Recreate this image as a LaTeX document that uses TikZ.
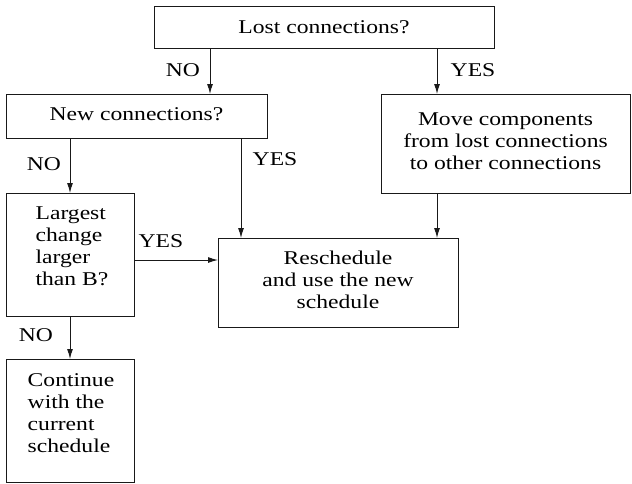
\documentclass[tikz,border=0pt]{standalone}
\usepackage{fontspec}
\setmainfont{Liberation Serif}
\usepackage{graphicx}
\usetikzlibrary{arrows.meta}
\newcommand{\stx}[2][c]{\scalebox{1.21}[1]{\begin{tabular}{@{}#1@{}}#2\end{tabular}}}
\begin{document}
\begin{tikzpicture}[x=1pt,y=1pt,
  box/.style={draw=black!90,line width=1pt,inner sep=0pt,outer sep=0pt,anchor=center},
  txt/.style={inner sep=0pt,font=\fontsize{19.5}{22}\selectfont},
  arr/.style={draw=black!90,line width=1pt,-{Latex[length=10pt,width=6pt]}},
  lbl/.style={inner sep=0pt,font=\fontsize{19.5}{22}\selectfont}]
\useasboundingbox (0,0) rectangle (632,-483);
\fill[white] (0,0) rectangle (632,-483);
% boxes
\node[box,minimum width=340pt,minimum height=42pt] (lost) at (324,-27) {};
\node[txt] (losttext) at ([yshift=-2pt]lost.center) {\stx{Lost connections?}};
\node[box,minimum width=261pt,minimum height=44pt,txt] (new) at (136.5,-116) {\stx{New connections?}};
\node[box,minimum width=249pt,minimum height=99pt,txt] (move) at (505.5,-143.5) {\stx{Move components\\from lost connections\\to other connections}};
\node[box,minimum width=128pt,minimum height=123pt] (largest) at (70,-254.5) {};
\node[txt] (largesttext) at ([xshift=2pt,yshift=6pt]largest.center) {\stx[l]{Largest\\change\\larger\\than B?}};
\node[box,minimum width=240pt,minimum height=89pt,txt] (resched) at (338,-282.5) {\stx{Reschedule\\and use the new\\schedule}};
\node[box,minimum width=128pt,minimum height=123pt] (cont) at (70,-420.5) {};
\node[txt] (conttext) at ([xshift=1pt,yshift=5pt]cont.center) {\stx[l]{Continue\\with the\\current\\schedule}};
% connectors
\draw[arr] ([xshift=-114pt]lost.south) -- ([xshift=-114pt]lost.south |- new.north);
\draw[arr] ([xshift=-68.5pt]move.north |- lost.south) -- ([xshift=-68.5pt]move.north);
\draw[arr] (largest.north |- new.south) -- (largest.north);
\draw[arr] ([xshift=-97pt]resched.north |- new.south) -- ([xshift=-97pt]resched.north);
\draw[arr] ([xshift=-68.5pt]move.south) -- ([xshift=-68.5pt]move.south |- resched.north);
\draw[arr] ([yshift=-5.5pt]largest.east) -- ([yshift=-5.5pt]largest.east -| resched.west);
\draw[arr] (largest.south) -- (cont.north);
% labels
\node[lbl] (l1) at (183,-72) {\stx{NO}};
\node[lbl] (l2) at (473,-72) {\stx{YES}};
\node[lbl] (l3) at (44,-166) {\stx{NO}};
\node[lbl] (l4) at (275,-161) {\stx{YES}};
\node[lbl] (l5) at (161,-243) {\stx{YES}};
\node[lbl] (l6) at (36,-337) {\stx{NO}};
\end{tikzpicture}
\end{document}
